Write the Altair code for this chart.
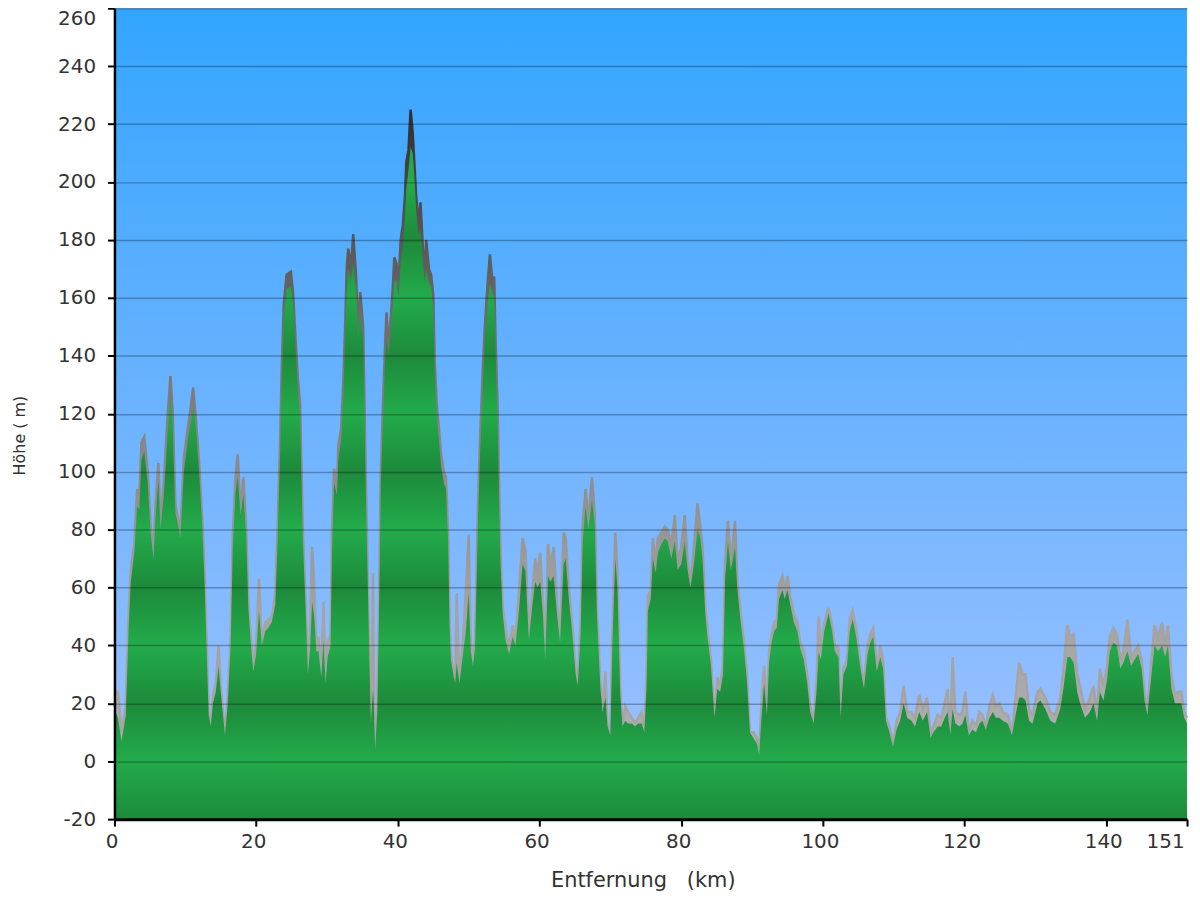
import altair as alt
import pandas as pd

# distance along the route (km)
km = [
    0.0, 0.5, 1.0, 1.6, 2.0, 2.3, 2.8, 3.2, 3.5, 3.8,
    4.2, 4.7, 5.1, 5.5, 5.8, 6.2, 6.5, 7.0, 7.5, 7.9,
    8.2, 8.6, 9.1, 9.3, 9.8, 10.3, 10.7, 11.1, 11.4, 11.9,
    12.4, 12.7, 13.0, 13.3, 13.6, 13.9, 14.3, 14.7, 15.0, 15.6,
    16.0, 16.4, 16.7, 17.1, 17.4, 17.8, 18.2, 18.6, 18.9, 19.3,
    19.6, 20.0, 20.4, 20.8, 21.3, 21.7, 22.2, 22.7, 23.0, 23.4,
    23.6, 23.9, 24.3, 24.9, 25.2, 25.6, 25.9, 26.2, 26.4, 26.6,
    27.0, 27.3, 27.6, 27.9, 28.2, 28.5, 28.8, 29.2, 29.5, 29.8,
    30.1, 30.5, 30.7, 31.0, 31.4, 31.6, 32.0, 32.3, 32.6, 32.8,
    33.0, 33.4, 33.7, 34.1, 34.4, 34.7, 35.1, 35.3, 35.5, 35.8,
    36.0, 36.2, 36.5, 36.6, 36.8, 37.1, 37.4, 37.6, 37.9, 38.2,
    38.4, 38.7, 39.0, 39.3, 39.5, 39.8, 40.1, 40.4, 40.7, 41.0,
    41.2, 41.5, 41.8, 42.1, 42.3, 42.6, 42.9, 43.2, 43.5, 43.8,
    44.0, 44.4, 44.7, 45.0, 45.2, 45.5, 45.8, 46.1, 46.5, 46.8,
    47.1, 47.3, 47.5, 47.9, 48.1, 48.3, 48.7, 49.2, 49.6, 50.0,
    50.3, 50.6, 50.9, 51.3, 51.6, 52.0, 52.3, 52.7, 53.0, 53.3,
    53.6, 53.8, 54.1, 54.3, 54.5, 54.8, 55.2, 55.7, 56.2, 56.6,
    57.1, 57.6, 58.0, 58.5, 59.0, 59.4, 59.7, 60.1, 60.5, 60.8,
    61.2, 61.5, 62.0, 62.5, 62.9, 63.4, 63.7, 64.1, 64.6, 65.1,
    65.4, 65.8, 66.1, 66.5, 66.9, 67.4, 67.8, 68.1, 68.6, 68.9,
    69.3, 69.6, 70.0, 70.3, 70.7, 71.0, 71.4, 71.7, 72.1, 72.5,
    73.0, 73.5, 73.9, 74.4, 74.8, 75.1, 75.3, 75.7, 76.0, 76.4,
    76.7, 77.2, 77.7, 78.1, 78.6, 79.1, 79.5, 80.0, 80.5, 80.9,
    81.3, 81.8, 82.3, 82.7, 83.0, 83.4, 83.7, 84.2, 84.7, 85.1,
    85.5, 85.9, 86.2, 86.6, 87.0, 87.6, 87.9, 88.4, 88.9, 89.3,
    89.7, 90.2, 90.7, 91.0, 91.3, 91.7, 92.1, 92.4, 92.7, 93.1,
    93.5, 93.8, 94.3, 94.6, 95.0, 95.4, 95.9, 96.4, 96.8, 97.3,
    97.8, 98.2, 98.7, 99.1, 99.4, 99.7, 100.2, 100.8, 101.3, 101.7,
    102.2, 102.5, 102.9, 103.4, 103.8, 104.2, 104.7, 105.3, 105.8, 106.3,
    106.7, 107.1, 107.6, 108.1, 108.5, 108.9, 109.4, 109.9, 110.4, 110.9,
    111.4, 111.9, 112.5, 113.0, 113.6, 114.1, 114.7, 115.2, 115.6, 116.2,
    116.7, 117.2, 117.6, 118.0, 118.3, 118.7, 119.3, 119.7, 120.1, 120.6,
    121.1, 121.6, 122.1, 122.5, 123.0, 123.5, 124.0, 124.4, 124.9, 125.4,
    126.1, 126.7, 127.2, 127.7, 128.2, 128.6, 129.1, 129.6, 130.3, 130.7,
    131.4, 132.1, 132.8, 133.5, 134.0, 134.5, 134.9, 135.4, 135.9, 136.3,
    137.0, 137.7, 138.2, 138.7, 139.1, 139.6, 140.1, 140.5, 141.0, 141.5,
    142.0, 142.4, 143.0, 143.5, 144.0, 144.5, 145.0, 145.4, 145.8, 146.3,
    146.8, 147.3, 147.9, 148.3, 148.7, 149.2, 149.7, 150.1, 150.6, 151.0,
    151.4,
]

# raw elevation (grey outline)
hoehe_roh = [
    24, 24, 10, 20, 52, 66, 75, 94, 91, 110,
    112, 100, 82, 71, 89, 103, 82, 98, 119, 133,
    121, 89, 82, 79, 105, 114, 121, 129, 121, 105,
    83, 66, 43, 17, 12, 23, 27, 40, 26, 9,
    23, 43, 78, 98, 106, 87, 98, 80, 55, 41,
    32, 41, 63, 41, 48, 49, 50, 58, 78, 112,
    135, 158, 168, 169, 162, 144, 132, 123, 101, 79,
    55, 31, 44, 74, 61, 41, 43, 30, 55, 27,
    41, 44, 79, 101, 94, 109, 115, 131, 153, 171,
    177, 171, 182, 168, 149, 162, 150, 123, 94, 59,
    34, 13, 65, 34, 4, 19, 64, 101, 123, 144,
    155, 144, 153, 164, 174, 172, 165, 180, 185, 195,
    207, 211, 225, 217, 208, 195, 186, 193, 179, 168,
    180, 170, 168, 161, 138, 123, 115, 106, 100, 98,
    79, 49, 37, 30, 27, 58, 28, 42, 59, 78,
    42, 34, 42, 88, 111, 136, 151, 166, 175, 167,
    167, 145, 122, 94, 71, 54, 46, 39, 47, 42,
    59, 77, 73, 45, 59, 70, 65, 72, 54, 36,
    75, 67, 74, 54, 43, 79, 77, 61, 48, 31,
    27, 48, 82, 94, 83, 98, 85, 54, 27, 18,
    31, 12, 9, 48, 79, 65, 25, 12, 19, 17,
    15, 13, 15, 17, 10, 29, 57, 59, 77, 69,
    77, 79, 81, 80, 75, 85, 69, 74, 85, 69,
    62, 74, 89, 81, 74, 54, 46, 35, 15, 29,
    26, 34, 69, 83, 69, 83, 63, 51, 40, 29,
    10, 10, 8, 2, 19, 33, 17, 38, 43, 48,
    49, 61, 64, 59, 64, 57, 51, 48, 41, 38,
    30, 19, 14, 28, 50, 38, 48, 53, 47, 40,
    39, 16, 32, 35, 49, 52, 46, 34, 26, 40,
    44, 46, 33, 40, 35, 15, 12, 6, 14, 17,
    26, 17, 17, 15, 23, 18, 22, 9, 12, 16,
    15, 20, 25, 9, 36, 17, 16, 17, 24, 10,
    14, 12, 17, 16, 12, 19, 23, 19, 20, 17,
    16, 10, 22, 34, 30, 30, 18, 16, 24, 25,
    22, 17, 16, 22, 33, 47, 43, 44, 30, 26,
    18, 22, 26, 17, 32, 26, 33, 43, 46, 44,
    35, 38, 49, 36, 38, 40, 35, 24, 18, 33,
    47, 43, 48, 40, 47, 30, 23, 24, 24, 17,
    15,
]

# smoothed elevation profile (green)
hoehe_profil = [
    18, 15, 7, 16, 46, 62, 72, 88, 87, 104,
    107, 96, 79, 70, 84, 97, 80, 93, 113, 126,
    117, 86, 80, 77, 100, 110, 116, 122, 118, 102,
    81, 63, 40, 16, 12, 20, 24, 33, 24, 9,
    20, 40, 74, 93, 98, 85, 92, 78, 53, 39,
    31, 37, 52, 40, 45, 46, 48, 54, 74, 108,
    130, 153, 163, 164, 158, 141, 128, 119, 98, 76,
    52, 30, 38, 55, 50, 38, 38, 29, 42, 27,
    36, 40, 72, 96, 92, 104, 111, 126, 148, 164,
    170, 166, 172, 163, 146, 155, 146, 120, 91, 57,
    33, 13, 25, 20, 4, 17, 60, 97, 118, 138,
    147, 140, 148, 158, 166, 166, 160, 172, 178, 188,
    198, 204, 212, 210, 203, 190, 181, 184, 174, 165,
    170, 165, 164, 156, 135, 120, 111, 102, 96, 94,
    76, 47, 35, 29, 27, 34, 27, 37, 45, 58,
    38, 33, 39, 82, 106, 130, 146, 159, 165, 162,
    160, 141, 118, 91, 68, 51, 42, 37, 43, 40,
    52, 68, 66, 42, 54, 62, 60, 62, 50, 35,
    64, 62, 64, 50, 41, 68, 70, 57, 45, 30,
    26, 44, 76, 88, 80, 90, 82, 51, 25, 17,
    22, 12, 9, 42, 70, 60, 23, 12, 14, 13,
    13, 12, 13, 13, 10, 25, 52, 56, 70, 65,
    72, 75, 77, 76, 70, 76, 66, 68, 76, 66,
    60, 68, 80, 77, 70, 51, 43, 33, 15, 25,
    24, 30, 63, 76, 66, 74, 60, 48, 38, 27,
    10, 8, 6, 2, 14, 27, 16, 34, 40, 45,
    46, 56, 59, 56, 59, 54, 48, 45, 39, 35,
    27, 17, 13, 24, 38, 35, 45, 51, 45, 38,
    36, 15, 30, 33, 45, 49, 43, 32, 25, 37,
    41, 43, 31, 36, 32, 14, 10, 5, 11, 14,
    20, 15, 14, 12, 17, 14, 17, 8, 10, 12,
    12, 15, 17, 9, 18, 13, 12, 13, 16, 9,
    11, 10, 13, 14, 11, 15, 17, 15, 15, 14,
    13, 9, 16, 22, 22, 21, 14, 13, 20, 21,
    18, 14, 13, 18, 26, 36, 36, 34, 24, 20,
    15, 17, 20, 14, 24, 21, 28, 38, 41, 40,
    32, 34, 38, 33, 35, 37, 32, 21, 16, 28,
    40, 38, 40, 36, 40, 25, 20, 20, 20, 15,
    13,
]

x_ticks = [0, 20, 40, 60, 80, 100, 120, 140, 151.4]
y_ticks = list(range(-20, 261, 20))

X_MAX = 151.4
Y_MIN, Y_MAX = -20, 260

df = pd.DataFrame({"km": km, "roh": hoehe_roh, "profil": hoehe_profil})


def value_gradient(top, bottom, value_colors):
    """Vertical gradient whose stops are placed at elevation values
    inside a mark's bounding box (top .. bottom)."""
    stops = []
    for v, c in value_colors:
        off = (top - v) / (top - bottom)
        if 0 <= off <= 1:
            stops.append(alt.GradientStop(offset=round(off, 4), color=c))
    return alt.Gradient(gradient="linear", x1=0, y1=0, x2=0, y2=1, stops=stops)


GREEN_LIGHT = "#23ab4b"
GREEN_DARK = "#1d8a3b"
green_grad = value_gradient(
    max(hoehe_profil), Y_MIN,
    [(v, GREEN_LIGHT if v % 40 == 0 else GREEN_DARK) for v in range(260, -21, -20)],
)
grey_stops = [(225, "#2e2e2e"), (190, "#4f4f4f"), (150, "#6e6e6e"),
              (100, "#8c8c8c"), (50, "#a4a4a4"), (0, "#b0b0b0"), (-20, "#b3b3b3")]
grey_grad = value_gradient(max(hoehe_roh), Y_MIN, grey_stops)
grey_line_grad = value_gradient(max(hoehe_roh), min(hoehe_roh), grey_stops)

sky_grad = alt.Gradient(
    gradient="linear", x1=0, y1=0, x2=0, y2=1,
    stops=[alt.GradientStop(offset=0, color="#33a5ff"),
           alt.GradientStop(offset=0.5, color="#6cb3ff"),
           alt.GradientStop(offset=1, color="#a2c2ff")],
)

x_scale = alt.Scale(domain=[0, X_MAX], nice=False, zero=False)
y_scale = alt.Scale(domain=[Y_MIN, Y_MAX], nice=False, zero=False)

NBSP = "\u00a0"

x_axis = alt.Axis(
    values=x_ticks,
    labelExpr="format(datum.value, 'd')",
    grid=False,
    domainColor="#000000", domainWidth=3,
    tickColor="#000000", tickWidth=2, tickSize=7,
    labelFontSize=20, labelColor="#333333", labelPadding=5, labelOffset=-3,
    labelAlign={"condition": {"test": "datum.value > 150", "value": "right"}, "value": "center"},
    title="Entfernung" + NBSP * 3 + "(km)",
    titleFontSize=21, titleFontWeight="normal", titleColor="#333333",
    titleX=531, titleY=68, titleBaseline="alphabetic", titleAlign="center",
    zindex=1,
)
y_axis = alt.Axis(
    values=y_ticks,
    labelExpr="datum.value < 0 ? '-' + abs(datum.value) : '' + datum.value",
    grid=True, gridColor="#000000", gridOpacity=0.28, gridWidth=1.5,
    domainColor="#000000", domainWidth=2.5,
    tickColor="#000000", tickWidth=2, tickSize=7,
    labelFontSize=20, labelColor="#333333", labelPadding=12,
    labelBaseline={"condition": {"test": "datum.value >= 260", "value": "top"}, "value": "middle"},
    title="Höhe ( m)",
    titleFontSize=16, titleFontWeight="normal", titleColor="#333333",
    titleX=-90, titleY=429, titleAngle=270, titleBaseline="alphabetic", titleAlign="center",
    zindex=1,
)

X = alt.X("km:Q", scale=x_scale, axis=x_axis)

sky = alt.Chart(pd.DataFrame({"k": [0]})).mark_rect(fill=sky_grad).encode(
    x=alt.value(0), x2=alt.value("width"), y=alt.value(0), y2=alt.value("height")
)

grey = alt.Chart(df).mark_area(fill=grey_grad, interpolate="linear").encode(
    x=X,
    y=alt.Y("roh:Q", scale=y_scale, axis=y_axis),
    y2=alt.datum(Y_MIN),
)

grey_edge = alt.Chart(df).mark_line(stroke=grey_line_grad, strokeWidth=2.5, interpolate="linear").encode(
    x=X,
    y=alt.Y("roh:Q", scale=y_scale, axis=y_axis),
)

green = alt.Chart(df).mark_area(fill=green_grad, interpolate="linear").encode(
    x=X,
    y=alt.Y("profil:Q", scale=y_scale, axis=y_axis),
    y2=alt.datum(Y_MIN),
)

chart = (
    alt.layer(sky, grey, grey_edge, green)
    .properties(
        width=1078,
        height=815,
        autosize=alt.AutoSizeParams(type="none"),
        padding={"left": 107, "top": -2, "right": 5, "bottom": 80},
    )
    .configure(font="DejaVu Sans")
    .configure_view(stroke=None)
)

chart.save("out.html", embed_options={"renderer": "svg", "actions": False})
